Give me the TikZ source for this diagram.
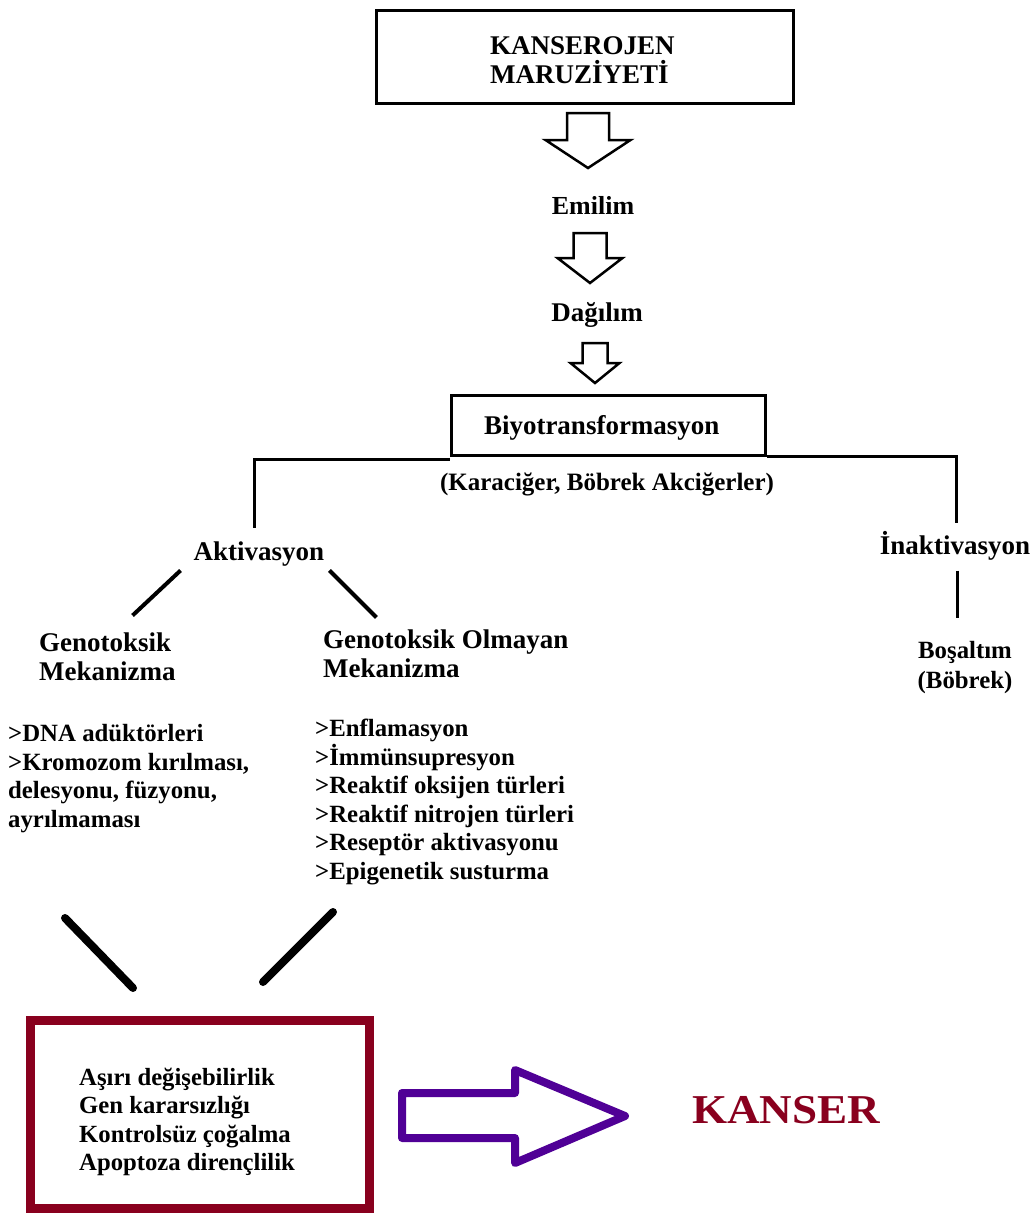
\documentclass[tikz,border=0pt]{standalone}
\usepackage{fontspec}
\setmainfont{Liberation Serif}
\newfontfamily\kanserfont[FakeStretch=1.1]{Liberation Serif}
\usetikzlibrary{positioning,calc}
\definecolor{boxred}{RGB}{137,0,30}
\definecolor{arrowpurple}{RGB}{80,0,150}

\begin{document}
\begin{tikzpicture}[
  x=1pt, y=-1pt,
  every node/.style={inner sep=0pt, font=\bfseries\fontsize{27}{29}\selectfont},
  frame/.style={draw, line width=3pt},
  listtext/.style={align=left, anchor=west, font=\bfseries\fontsize{24.8}{28.5}\selectfont},
  headtext/.style={align=left, anchor=west, font=\bfseries\fontsize{27}{29}\selectfont},
  link/.style={line width=3pt},
  diag/.style={line width=4pt},
  heavy/.style={line width=8pt, line cap=round},
  blockarrow/.style={draw, line width=2.5pt, fill=white},
  fatarrow/.style={draw=arrowpurple, line width=8pt, line join=round}
]
  \useasboundingbox (0,0) rectangle (1033,1213);

  % Exposure and uptake
  \node[frame, minimum width=417pt, minimum height=93pt, inner xsep=114pt, text width=189pt, align=left] (expo) at (584.5,56.5) {};
  \node[align=left, anchor=west] (expotext) at (490,60) {KANSEROJEN\\MARUZİYETİ};
  \foreach \cx/\ya/\sw/\yb/\hw/\yc in {588/113/21/140/42.5/168, 590/233/16.5/258/32.5/283, 595/343/12.5/363/24.5/383} {
    \draw[blockarrow] (\cx-\sw,\ya) -- (\cx+\sw,\ya) -- (\cx+\sw,\yb) -- (\cx+\hw,\yb)
      -- (\cx,\yc) -- (\cx-\hw,\yb) -- (\cx-\sw,\yb) -- cycle;
  }
  \node[font=\bfseries\fontsize{26}{29}\selectfont] (absorb) at (593,205) {Emilim};
  \node (distrib) at (597,315) {Dağılım};

  % Biotransformation
  \node[frame, minimum width=314pt, minimum height=60pt, inner xsep=33pt, text width=248pt,
    text height=21pt, text depth=3pt, align=left] (biyo) at (608,425) {Biyotransformasyon};
  \node[font=\bfseries\fontsize{25}{27}\selectfont] (organs) at (607,484) {(Karaciğer, Böbrek Akciğerler)};
  \node (aktiv) at (259,554) {Aktivasyon};
  \node (inaktiv) at (955,546) {İnaktivasyon};
  \node[align=center, font=\bfseries\fontsize{24.8}{30}\selectfont] (excr) at (965,668) {Boşaltım\\(Böbrek)};

  \draw[link, shorten >=14pt] ([shift={(0,3)}]biyo.south west) -| ([shift={(-5,0)}]aktiv.north);
  \draw[link, shorten >=8pt] (biyo.south east) -| ([shift={(1,0)}]inaktiv.north);
  \draw[link, shorten <=10pt, shorten >=24pt] ([shift={(2,0)}]inaktiv.south) -- ([shift={(2,0)}]inaktiv.south |- excr.north);

  % Mechanisms
  \node[headtext] (genot) at (39,657) {Genotoksik\\Mekanizma};
  \node[headtext] (nongenot) at (323,653.5) {Genotoksik Olmayan\\Mekanizma};
  \draw[diag] ([shift={(-13,4)}]aktiv.south west) -- ++(-48,45);
  \draw[diag] ([shift={(5,4)}]aktiv.south east) -- ++(47,47);

  \node[listtext] (gtlist) at (8,778.5) {>DNA adüktörleri\\>Kromozom kırılması,\\delesyonu, füzyonu,\\ayrılmaması};
  \node[listtext] (ngtlist) at (315,802) {>Enflamasyon\\>İmmünsupresyon\\>Reaktif oksijen türleri\\>Reaktif nitrojen türleri\\>Reseptör aktivasyonu\\>Epigenetik susturma};

  % Outcome
  \node[draw=boxred, line width=9pt, minimum width=339pt, minimum height=188pt] (hallmark) at (200,1114.5) {};
  \node[listtext, font=\bfseries\fontsize{24.7}{28.5}\selectfont] (traits) at (79,1122) {Aşırı değişebilirlik\\Gen kararsızlığı\\Kontrolsüz çoğalma\\Apoptoza dirençlilik};
  \draw[heavy] ([shift={(-67,-28)}]hallmark.north) -- ++(-68,-70);
  \draw[heavy] ([shift={(63,-34)}]hallmark.north) -- ++(70,-70);

  \draw[fatarrow] (402,1093) -- (515,1093) -- (515,1070) -- (625,1116) -- (515,1163) -- (515,1138) -- (402,1138) -- cycle;
  \node[text=boxred, font=\kanserfont\bfseries\fontsize{41}{45}\selectfont] (kanser) at (786,1110) {KANSER};
\end{tikzpicture}
\end{document}
